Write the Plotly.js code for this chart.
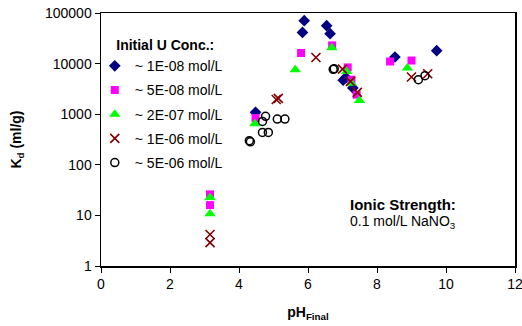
<!DOCTYPE html>
<html>
<head>
<meta charset="utf-8">
<script src="https://cdn.plot.ly/plotly-3.0.1.min.js"></script>
<style>html,body{margin:0;padding:0;background:#fff;}#chart{width:522px;height:326px;}</style>
</head>
<body>
<div id="chart"></div>
<script>
// ~1E-08 mol/L
const ph_1e8 = [4.48, 5.84, 5.89, 6.54, 6.64, 7.02, 7.10, 7.30, 8.52, 9.73];
const kd_1e8 = [1090, 41400, 70500, 56100, 39000, 4700, 5300, 3300, 13500, 18000];
// ~5E-08 mol/L
const ph_5e8 = [3.16, 3.16, 4.48, 5.80, 6.70, 7.15, 7.26, 7.41, 8.38, 9.00];
const kd_5e8 = [26, 16, 840, 16200, 22900, 8400, 4800, 2430, 11000, 11500];
// ~2E-07 mol/L
const ph_2e7 = [3.16, 3.16, 4.46, 5.63, 6.69, 7.12, 7.26, 7.49, 8.88];
const kd_2e7 = [22.7, 10.8, 650, 7600, 20500, 7000, 4100, 1870, 8200];
// ~1E-06 mol/L
const ph_1e6 = [3.16, 3.16, 5.08, 5.14, 6.23, 7.00, 7.23, 7.43, 9.00, 9.47];
const kd_1e6 = [4.2, 2.9, 1950, 2050, 13200, 7800, 4450, 2700, 5430, 6300];
// ~5E-06 mol/L
const ph_5e6 = [4.30, 4.33, 4.68, 4.77, 4.68, 4.85, 5.11, 5.33, 6.73, 6.76, 9.20, 9.39];
const kd_5e6 = [300, 285, 720, 908, 437, 437, 800, 800, 7700, 7900, 4800, 5760];

const seriesNames = ["~ 1E-08 mol/L", "~ 5E-08 mol/L", "~ 2E-07 mol/L", "~ 1E-06 mol/L", "~ 5E-06 mol/L"];
const yTickVals = [1, 10, 100, 1000, 10000, 100000];
const yTickText = ["1", "10", "100", "1000", "10000", "100000"];
const xTickVals = [0, 2, 4, 6, 8, 10, 12];

const FONT = "Liberation Sans, Arial, sans-serif";

const traces = [
  {x: ph_1e8, y: kd_1e8, name: seriesNames[0], legendgroup: "a", mode: "markers", type: "scatter",
   marker: {symbol: "diamond", size: 9, color: "#000080"}},
  {x: ph_5e8, y: kd_5e8, name: seriesNames[1], legendgroup: "b", mode: "markers", type: "scatter",
   marker: {symbol: "square", size: 8, color: "#FF00FF"}},
  {x: ph_2e7, y: kd_2e7, name: seriesNames[2], legendgroup: "c", mode: "markers", type: "scatter",
   marker: {symbol: "triangle-up", size: 10, color: "#00FF00"}},
  {x: ph_1e6, y: kd_1e6, name: seriesNames[3], legendgroup: "d", mode: "markers", type: "scatter",
   marker: {symbol: "x-thin-open", size: 9, color: "#800000", line: {color: "#800000", width: 1.6}}},
  {x: ph_5e6, y: kd_5e6, name: seriesNames[4], legendgroup: "e", mode: "markers", type: "scatter",
   marker: {symbol: "circle-open", size: 8, color: "#000000", line: {color: "#000000", width: 1.5}}}
];

const layout = {
  width: 522, height: 326,
  margin: {l: 101, r: 7, t: 13, b: 60},
  paper_bgcolor: "#fff", plot_bgcolor: "#fff",
  font: {family: FONT, size: 14, color: "#000"},
  showlegend: true,
  legend: {
    x: -0.015, y: 0.925, xanchor: "left", yanchor: "top",
    bgcolor: "rgba(0,0,0,0)", borderwidth: 0,
    font: {family: FONT, size: 14, color: "#000"},
    title: {text: "<b>&nbsp;&nbsp;&nbsp;&nbsp;&nbsp;Initial U Conc.:</b>", font: {family: FONT, size: 14, color: "#000"}},
    tracegroupgap: 3, traceorder: "grouped"
  },
  xaxis: {
    range: [0, 12], tickvals: xTickVals, ticks: "outside", ticklen: 5, tickcolor: "#000",
    ticklabeloverflow: "allow",
    showline: true, linecolor: "#000", linewidth: 1.5, mirror: true, showgrid: false, zeroline: false,
    tickfont: {family: FONT, size: 14},
    title: {text: "<b>pH<sub>Final</sub></b>", font: {family: FONT, size: 14}, standoff: 16}
  },
  yaxis: {
    type: "log", range: [0, 5], tickvals: yTickVals, ticktext: yTickText,
    ticks: "outside", ticklen: 5, tickcolor: "#000",
    showline: true, linecolor: "#000", linewidth: 1.5, mirror: true, showgrid: false, zeroline: false,
    tickfont: {family: FONT, size: 14},
    title: {text: "<b>K<sub>d</sub> (ml/g)</b>", font: {family: FONT, size: 14}, standoff: 20}
  },
  annotations: [
    {xref: "paper", yref: "paper", x: 0.597, y: 0.245, xanchor: "left", yanchor: "middle",
     text: "<b>Ionic Strength:</b>", showarrow: false, font: {family: FONT, size: 15, color: "#000"}},
    {xref: "paper", yref: "paper", x: 0.597, y: 0.175, xanchor: "left", yanchor: "middle",
     text: "0.1 mol/L NaNO<sub>3</sub>", showarrow: false, font: {family: FONT, size: 14, color: "#000"}}
  ]
};

Plotly.newPlot("chart", traces, layout, {displayModeBar: false, staticPlot: true});
</script>
</body>
</html>
